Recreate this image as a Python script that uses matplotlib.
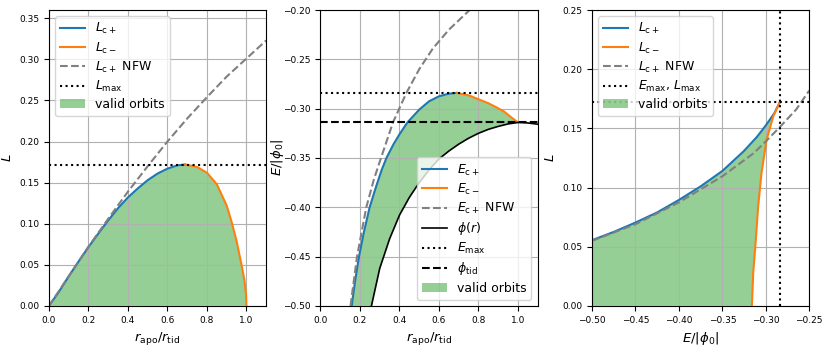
import matplotlib
matplotlib.use("Agg")
import matplotlib.pyplot as plt

# ---------------- Panel 1: L vs r_apo/r_tid ----------------
p1_r_cplus = [0.0, 0.05, 0.1, 0.15, 0.2, 0.25, 0.3, 0.35, 0.4, 0.45, 0.5, 0.55, 0.6, 0.65, 0.69]
p1_L_cplus = [0.0, 0.017, 0.036, 0.054, 0.0716, 0.088, 0.104, 0.119, 0.132, 0.143, 0.153, 0.161, 0.167, 0.171, 0.172]
p1_r_cminus = [0.69, 0.75, 0.8, 0.85, 0.9, 0.925, 0.95, 0.975, 0.99, 0.998, 1.0]
p1_L_cminus = [0.172, 0.169, 0.162, 0.148, 0.122, 0.102, 0.079, 0.050, 0.031, 0.014, 0.0]
p1_r_nfw = [0.0, 0.1, 0.2, 0.3, 0.4, 0.5, 0.6, 0.7, 0.8, 0.9, 1.0, 1.1]
p1_L_nfw = [0.0, 0.036, 0.072, 0.106, 0.139, 0.170, 0.200, 0.228, 0.254, 0.279, 0.301, 0.323]
L_max = 0.172

# ---------------- Panel 2: E vs r_apo/r_tid ----------------
p2_r_cplus = [0.158, 0.175, 0.195, 0.22, 0.249, 0.28, 0.31, 0.334, 0.37, 0.4, 0.44, 0.5, 0.55, 0.6, 0.65, 0.69]
p2_E_cplus = [-0.5, -0.475, -0.45, -0.425, -0.40, -0.38, -0.362, -0.35, -0.336, -0.326, -0.314, -0.301, -0.2925, -0.2875, -0.2848, -0.284]
p2_r_cminus = [0.69, 0.75, 0.8, 0.85, 0.89, 0.93, 0.957, 0.98, 1.0]
p2_E_cminus = [-0.284, -0.2865, -0.2905, -0.2945, -0.2986, -0.303, -0.3074, -0.311, -0.314]
p2_r_nfw = [0.152, 0.185, 0.232, 0.27, 0.308, 0.367, 0.435, 0.5, 0.569, 0.65, 0.755]
p2_E_nfw = [-0.5, -0.45, -0.40, -0.372, -0.349, -0.314, -0.284, -0.26, -0.239, -0.22, -0.2]
p2_r_phi = [0.258, 0.3, 0.35, 0.4, 0.45, 0.5, 0.55, 0.6, 0.65, 0.7, 0.75, 0.8, 0.85, 0.9, 0.95, 1.0, 1.05, 1.1]
p2_E_phi = [-0.5, -0.462, -0.432, -0.408, -0.39, -0.375, -0.362, -0.351, -0.343, -0.336, -0.330, -0.325, -0.321, -0.318, -0.3155, -0.314, -0.3145, -0.3158]
E_max = -0.284
phi_tid = -0.314

# ---------------- Panel 3: L vs E ----------------
p3_E_cplus = [-0.5, -0.475, -0.45, -0.425, -0.40, -0.375, -0.35, -0.325, -0.31, -0.30, -0.29, -0.284]
p3_L_cplus = [0.0555, 0.0625, 0.0704, 0.079, 0.0895, 0.101, 0.114, 0.131, 0.143, 0.1525, 0.163, 0.172]
p3_E_cminus = [-0.284, -0.2915, -0.2992, -0.305, -0.3088, -0.3115, -0.3145, -0.316]
p3_L_cminus = [0.172, 0.160, 0.140, 0.112, 0.084, 0.0557, 0.0276, 0.0]
p3_E_nfw = [-0.5, -0.45, -0.40, -0.35, -0.314, -0.30, -0.284, -0.265, -0.25]
p3_L_nfw = [0.055, 0.069, 0.0875, 0.1095, 0.129, 0.139, 0.151, 0.166, 0.182]

blue = "#1f77b4"
orange = "#ff7f0e"
green = "#2ca02c"

plt.rcParams["font.family"] = ["DejaVu Sans"]
plt.rcParams["xtick.labelsize"] = 6.5
plt.rcParams["ytick.labelsize"] = 6.5
plt.rcParams["axes.labelsize"] = 9.5
plt.rcParams["legend.fontsize"] = 9
plt.rcParams["legend.labelspacing"] = 0.33

fig, axes = plt.subplots(1, 3, figsize=(8.3, 3.46), dpi=100)
fig.subplots_adjust(left=0.059, right=0.975, bottom=0.116, top=0.971, wspace=0.25)

lw = 1.5

# Panel 1
ax = axes[0]
ax.plot(p1_r_cplus, p1_L_cplus, color=blue, lw=lw, label=r"$L_{\rm c+}$")
ax.plot(p1_r_cminus, p1_L_cminus, color=orange, lw=lw, label=r"$L_{\rm c-}$")
ax.plot(p1_r_nfw, p1_L_nfw, color="grey", ls="--", lw=lw, label=r"$L_{\rm c+}$ NFW")
ax.axhline(L_max, color="black", ls=":", lw=lw, label=r"$L_{\rm max}$")
poly_x = p1_r_cplus + p1_r_cminus + [0.0]
poly_y = p1_L_cplus + p1_L_cminus + [0.0]
ax.fill(poly_x, poly_y, color=green, alpha=0.5, lw=0, label="valid orbits")
ax.set_xlim(0, 1.1)
ax.set_ylim(0, 0.36)
ax.set_yticks([0, 0.05, 0.1, 0.15, 0.2, 0.25, 0.3, 0.35])
ax.set_xlabel(r"$r_{\rm apo}/r_{\rm tid}$")
ax.set_ylabel(r"$L$")
ax.grid(True)
ax.legend(loc="upper left")

# Panel 2
ax = axes[1]
ax.plot(p2_r_cplus, p2_E_cplus, color=blue, lw=lw, label=r"$E_{\rm c+}$")
ax.plot(p2_r_cminus, p2_E_cminus, color=orange, lw=lw, label=r"$E_{\rm c-}$")
ax.plot(p2_r_nfw, p2_E_nfw, color="grey", ls="--", lw=lw, label=r"$E_{\rm c+}$ NFW")
ax.plot(p2_r_phi, p2_E_phi, color="black", lw=1.2, label=r"$\phi(r)$")
ax.axhline(E_max, color="black", ls=":", lw=lw, label=r"$E_{\rm max}$")
ax.axhline(phi_tid, color="black", ls="--", lw=lw, label=r"$\phi_{\rm tid}$")
phi_in = [(r, e) for r, e in zip(p2_r_phi, p2_E_phi) if r <= 1.0]
poly_x = p2_r_cplus + p2_r_cminus + [p[0] for p in phi_in][::-1]
poly_y = p2_E_cplus + p2_E_cminus + [p[1] for p in phi_in][::-1]
ax.fill(poly_x, poly_y, color=green, alpha=0.5, lw=0, label="valid orbits")
ax.set_xlim(0, 1.1)
ax.set_ylim(-0.5, -0.2)
ax.set_xlabel(r"$r_{\rm apo}/r_{\rm tid}$")
ax.set_ylabel(r"$E/|\phi_0|$")
ax.yaxis.set_label_coords(-0.16, 0.5)
ax.grid(True)
ax.legend(loc="lower right")

# Panel 3
ax = axes[2]
ax.plot(p3_E_cplus, p3_L_cplus, color=blue, lw=lw, label=r"$L_{\rm c+}$")
ax.plot(p3_E_cminus, p3_L_cminus, color=orange, lw=lw, label=r"$L_{\rm c-}$")
ax.plot(p3_E_nfw, p3_L_nfw, color="grey", ls="--", lw=lw, label=r"$L_{\rm c+}$ NFW")
ax.axvline(E_max, color="black", ls=":", lw=lw, label=r"$E_{\rm max}$, $L_{\rm max}$")
ax.axhline(L_max, color="black", ls=":", lw=lw)
poly_x = p3_E_cplus + p3_E_cminus + [-0.5]
poly_y = p3_L_cplus + p3_L_cminus + [0.0]
ax.fill(poly_x, poly_y, color=green, alpha=0.5, lw=0, label="valid orbits")
ax.set_xlim(-0.5, -0.25)
ax.set_ylim(0, 0.25)
ax.set_xlabel(r"$E/|\phi_0|$")
ax.set_ylabel(r"$L$")
ax.grid(True)
ax.legend(loc="upper left")

fig.savefig("out.png", dpi=100)
